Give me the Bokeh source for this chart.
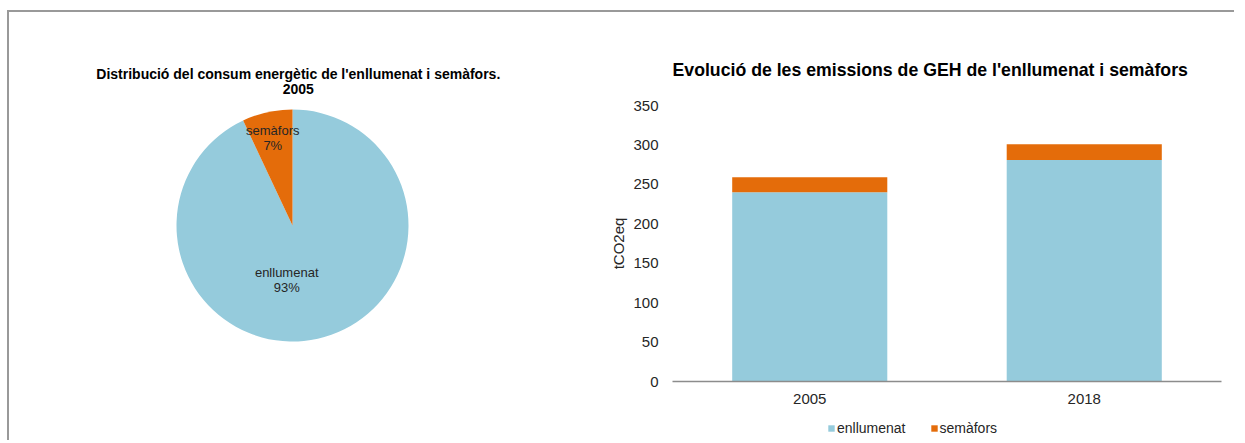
from bokeh.plotting import figure
from bokeh.layouts import row, column
from bokeh.models import Range1d, FactorRange, ColumnDataSource, Legend, LegendItem
from bokeh.core.properties import value
from bokeh.embed import file_html
from bokeh.resources import INLINE
import math

# ---- data ----
pie_labels = ["enllumenat", "semàfors"]
pie_values = [93, 7]
pie_colors = ["#95CBDC", "#E46C0A"]

years = ["2005", "2018"]
enllumenat = [240, 281]
semafors = [19, 20]
series_names = ["enllumenat", "semàfors"]
bar_colors = ["#95CBDC", "#E46C0A"]
yticks = [0, 50, 100, 150, 200, 250, 300, 350]

FONT = "Liberation Sans"
H = 428

# ---- pie figure (frame covers the whole canvas) ----
W1 = 590
R_PX = 116.0
CX, CY = 283.0, 213.0  # pie center in canvas px (from top-left)
p1 = figure(width=W1, height=H, output_backend="svg", toolbar_location=None,
            x_range=Range1d(-CX / R_PX, (W1 - CX) / R_PX),
            y_range=Range1d(-(H - CY) / R_PX, CY / R_PX),
            min_border=0, min_border_left=0, min_border_right=0,
            min_border_top=0, min_border_bottom=0)
p1.axis.visible = False
p1.grid.visible = False
p1.outline_line_color = None

total = sum(pie_values)
starts, ends = [], []
acc = 0.0
for v in pie_values:
    starts.append(math.radians(90 - acc / total * 360))
    acc += v
    ends.append(math.radians(90 - acc / total * 360))
src_pie = ColumnDataSource(dict(start=starts, end=ends, color=pie_colors, label=pie_labels))
p1.wedge(x=0, y=0, radius=1.0, start_angle="start", end_angle="end", direction="clock",
         fill_color="color", line_color=None, source=src_pie)

lab_x = [-0.05, -0.17]
lab_y = [-0.47, 0.755]
lab_txt = [f"{l}\n{round(v / total * 100)}%" for l, v in zip(pie_labels, pie_values)]
p1.text(x=lab_x, y=lab_y, text=lab_txt, text_align="center", text_baseline="middle",
        text_font=value(FONT), text_font_size="13px", text_color="#262626", text_line_height=1.05)

pie_title = ["Distribució del consum energètic de l'enllumenat i semàfors.", "2005"]
p1.text(x=[0.05, 0.05], y=[1.31, 1.18], text=pie_title, text_align="center", text_baseline="middle",
        text_font=value(FONT), text_font_size="14px", text_font_style="bold", text_color="#000000")

# ---- bar figure ----
W2 = 635
H2 = 400
TOP, BOTTOM = 93, 31
p2 = figure(width=W2, height=H2, output_backend="svg", toolbar_location=None,
            x_range=FactorRange(*years, range_padding=0), y_range=Range1d(0, 350),
            min_border_left=73, min_border_right=13, min_border_top=TOP, min_border_bottom=BOTTOM)
p2.title.text = "Evolució de les emissions de GEH de l'enllumenat i semàfors"
p2.title.align = "left"
p2.title.text_font = FONT
p2.title.text_font_size = "17.7px"
p2.title.text_font_style = "bold"
p2.title.text_color = "#000000"
p2.title.standoff = 52

src_bar = ColumnDataSource(dict(year=years, enllumenat=enllumenat, semafors=semafors))
r = p2.vbar_stack(["enllumenat", "semafors"], x="year", width=0.565, color=bar_colors,
                  line_color=None, source=src_bar)

p2.grid.visible = False
p2.outline_line_color = None
p2.yaxis.ticker = yticks
p2.yaxis.axis_line_color = None
p2.yaxis.major_tick_line_color = None
p2.yaxis.minor_tick_line_color = None
p2.yaxis.major_label_standoff = 8
p2.yaxis.axis_label = "tCO2eq"
p2.yaxis.axis_label_text_font_style = "normal"
p2.yaxis.axis_label_text_font = FONT
p2.yaxis.axis_label_text_font_size = "15px"
p2.yaxis.axis_label_text_color = "#262626"
p2.yaxis.axis_label_standoff = 3
p2.xaxis.axis_line_color = "#8c8c8c"
p2.xaxis.axis_line_width = 1.5
p2.xaxis.major_tick_line_color = None
p2.xaxis.minor_tick_line_color = None
p2.xaxis.major_label_standoff = 6
for ax in (p2.xaxis, p2.yaxis):
    ax.major_label_text_font = FONT
    ax.major_label_text_font_size = "15px"
    ax.major_label_text_color = "#262626"

# ---- legend strip below the bar chart ----
# the series are drawn again here, but far outside this strip's visible range,
# so only the legend (which needs them) shows
HL = 28
pl = figure(width=W2, height=HL, output_backend="svg", toolbar_location=None,
            x_range=FactorRange(*years), y_range=Range1d(5000, 5001),
            min_border=0, min_border_left=0, min_border_right=0,
            min_border_top=0, min_border_bottom=0)
pl.axis.visible = False
pl.grid.visible = False
pl.outline_line_color = None
leg_renderers = pl.vbar_stack(["enllumenat", "semafors"], x="year", width=0.565, color=bar_colors,
                              line_color=None, source=src_bar)
legend = Legend(items=[LegendItem(label=n, renderers=[rr]) for n, rr in zip(series_names, leg_renderers)],
                orientation="horizontal", location=(228, 4),
                glyph_width=8, glyph_height=8, label_text_font=FONT, label_text_font_size="14px",
                label_text_color="#262626", spacing=24, label_standoff=2, label_height=16,
                padding=0, margin=0, border_line_color=None, background_fill_alpha=0)
pl.add_layout(legend, "center")

layout = row(column(p1), column(p2, column(pl), spacing=0),
             styles={"border-top": "2px solid #999999", "border-left": "2px solid #999999",
                     "margin-top": "10px", "margin-left": "7px"})

open("out.html", "w").write(file_html(layout, INLINE))
